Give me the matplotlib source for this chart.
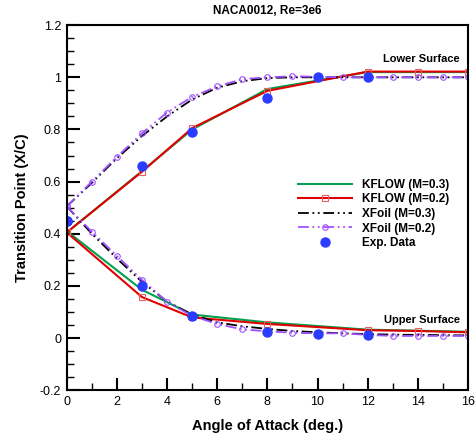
import matplotlib
matplotlib.use("Agg")
import matplotlib.pyplot as plt
from matplotlib.ticker import MultipleLocator

plt.rcParams['font.family'] = ['Liberation Sans', 'DejaVu Sans']

# KFLOW M=0.3
kf3_alpha = [0, 3, 5, 8, 12, 16]
kf3_lower = [0.405, 0.64, 0.80, 0.955, 1.02, 1.02]
kf3_upper = [0.41, 0.185, 0.09, 0.06, 0.032, 0.024]

# KFLOW M=0.2
kf2_alpha = [0, 3, 5, 8, 12, 14, 16]
kf2_lower = [0.405, 0.638, 0.805, 0.948, 1.022, 1.022, 1.022]
kf2_upper = [0.405, 0.157, 0.079, 0.054, 0.030, 0.027, 0.022]

# XFoil
xf_alpha = [0, 1, 2, 3, 4, 5, 6, 7, 8, 9, 10, 11, 12, 13, 14, 15, 16]
xf3_lower = [0.505, 0.595, 0.69, 0.775, 0.85, 0.915, 0.96, 0.985, 0.997, 1.0, 1.0, 1.0, 1.0, 1.0, 1.0, 1.0, 1.0]
xf3_upper = [0.505, 0.40, 0.305, 0.215, 0.14, 0.09, 0.06, 0.045, 0.035, 0.027, 0.022, 0.018, 0.015, 0.013, 0.012, 0.011, 0.010]
xf2_lower = [0.505, 0.60, 0.695, 0.785, 0.865, 0.925, 0.965, 0.993, 1.0, 1.004, 1.002, 1.0, 1.0, 1.0, 1.0, 1.0, 1.0]
xf2_upper = [0.505, 0.408, 0.315, 0.223, 0.139, 0.085, 0.054, 0.033, 0.026, 0.02, 0.018, 0.018, 0.012, 0.008, 0.008, 0.008, 0.008]

# Experimental
exp_alpha = [0, 3, 5, 8, 10, 12]
exp_lower = [0.449, 0.661, 0.79, 0.922, 1.003, 1.0]
exp_upper = [0.449, 0.201, 0.085, 0.024, 0.014, 0.0115]

green = '#00a050'
red = '#e00000'
purple = '#a050ff'
blue = '#2a3cff'

fig = plt.figure(figsize=(4.77, 4.34), dpi=100)
ax = fig.add_axes([0.140, 0.101, 0.841, 0.841])

ax.plot(kf3_alpha, kf3_lower, color=green, lw=1.5, label='KFLOW (M=0.3)')
ax.plot(kf3_alpha, kf3_upper, color=green, lw=1.5)

ax.plot(kf2_alpha, kf2_lower, color=red, lw=1.5, marker='s', ms=5, mfc='none', mec='#e86060', mew=0.8, label='KFLOW (M=0.2)')
ax.plot(kf2_alpha, kf2_upper, color=red, lw=1.5, marker='s', ms=5, mfc='none', mec='#e86060', mew=0.8)

dd = (6, 2, 1, 2, 1, 2)
ax.plot(xf_alpha, xf3_lower, color='black', lw=1.3, dashes=dd, label='XFoil (M=0.3)')
ax.plot(xf_alpha, xf3_upper, color='black', lw=1.3, dashes=dd)

ax.plot(xf_alpha, xf2_lower, color=purple, lw=1.3, dashes=dd, marker='o', ms=4, mfc='none', mec=purple, mew=0.8, label='XFoil (M=0.2)')
ax.plot(xf_alpha, xf2_upper, color=purple, lw=1.3, dashes=dd, marker='o', ms=4, mfc='none', mec=purple, mew=0.8)

ax.plot(exp_alpha, exp_lower, ls='none', marker='o', ms=6.5, color=blue, label='Exp. Data')
ax.plot(exp_alpha, exp_upper, ls='none', marker='o', ms=6.5, color=blue)

ax.set_xlim(0, 16)
ax.set_ylim(-0.2, 1.2)
ax.xaxis.set_major_locator(MultipleLocator(2))
ax.xaxis.set_minor_locator(MultipleLocator(1))
ax.yaxis.set_major_locator(MultipleLocator(0.2))
ax.yaxis.set_minor_locator(MultipleLocator(0.05))
ax.set_yticks([-0.2, 0, 0.2, 0.4, 0.6, 0.8, 1.0, 1.2])
ax.set_yticklabels(['-0.2', '0', '0.2', '0.4', '0.6', '0.8', '1', '1.2'])
ax.tick_params(which='major', direction='in', length=9, width=1.5, labelsize=9, pad=4)
ax.tick_params(which='minor', direction='in', length=5, width=1.0)
for s in ax.spines.values():
    s.set_linewidth(1.5)

ax.set_title('NACA0012, Re=3e6', fontsize=8.5, fontweight='bold', pad=8)
ax.set_xlabel('Angle of Attack (deg.)', fontsize=10.5, fontweight='bold', labelpad=8)
ax.set_ylabel('Transition Point (X/C)', fontsize=10.5, fontweight='bold', labelpad=8)

ax.text(14.15, 1.071, 'Lower Surface', fontsize=8, fontweight='bold', ha='center', va='center')
ax.text(14.15, 0.069, 'Upper Surface', fontsize=8, fontweight='bold', ha='center', va='center')

leg = ax.legend(loc='upper left', bbox_to_anchor=(0.565, 0.592), frameon=False,
                prop={'weight': 'bold', 'size': 8.5}, handlelength=4.6,
                labelspacing=0.22, handletextpad=0.8, borderaxespad=0)

fig.savefig('out.png', dpi=100)
